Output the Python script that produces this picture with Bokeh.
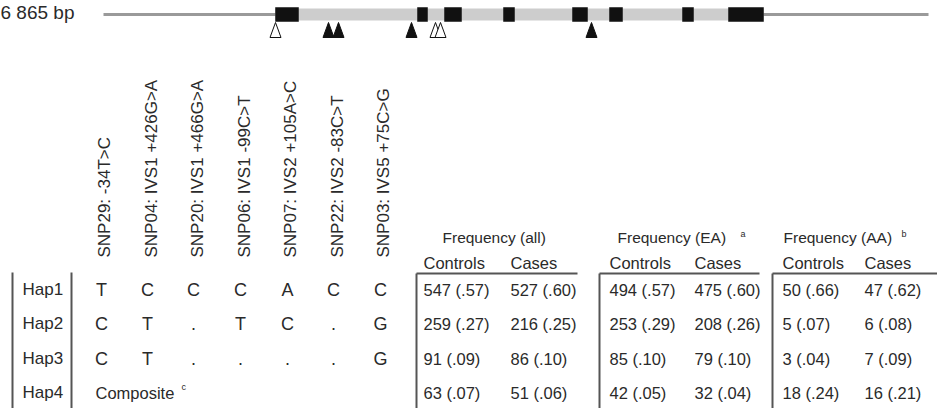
from math import pi
from bokeh.plotting import figure
from bokeh.models import Range1d
from bokeh.core.properties import value
from bokeh.embed import file_html
from bokeh.resources import INLINE

# ---------------- data ----------------
gene_label = "6 865 bp"
gene_span = [103, 928]
transcript_span = [275, 763]
exon_starts = [275, 417, 444, 503, 572, 609, 682, 728]
exon_ends = [298, 427, 461, 514, 587, 622, 693, 763]
snp_pos = [275, 328, 338, 411, 435, 440, 591]
snp_filled = [False, True, True, True, False, False, True]

snp_labels = [
    "SNP29: -34T>C",
    "SNP04: IVS1  +426G>A",
    "SNP20: IVS1 +466G>A",
    "SNP06: IVS1 -99C>T",
    "SNP07: IVS2 +105A>C",
    "SNP22: IVS2 -83C>T",
    "SNP03: IVS5 +75C>G",
]
hap_names = ["Hap1", "Hap2", "Hap3", "Hap4"]
hap1_alleles = ["T", "C", "C", "C", "A", "C", "C"]
hap2_alleles = ["C", "T", ".", "T", "C", ".", "G"]
hap3_alleles = ["C", "T", ".", ".", ".", ".", "G"]
hap4_label = "Composite"

group_titles = ["Frequency (all)", "Frequency (EA)", "Frequency (AA)"]
group_notes = ["", "a", "b"]
sub_headers = ["Controls", "Cases"]

all_controls_n = [547, 259, 91, 63]
all_controls_f = [0.57, 0.27, 0.09, 0.07]
all_cases_n = [527, 216, 86, 51]
all_cases_f = [0.60, 0.25, 0.10, 0.06]
ea_controls_n = [494, 253, 85, 42]
ea_controls_f = [0.57, 0.29, 0.10, 0.05]
ea_cases_n = [475, 208, 79, 32]
ea_cases_f = [0.60, 0.26, 0.10, 0.04]
aa_controls_n = [50, 5, 3, 18]
aa_controls_f = [0.66, 0.07, 0.04, 0.24]
aa_cases_n = [47, 6, 7, 16]
aa_cases_f = [0.62, 0.08, 0.09, 0.21]

# ---------------- layout ----------------
FONT = value("Liberation Sans")
TXT = "#2a2a2a"
LINE = "#555555"
FS = "16.5px"

row_y = [289, 323, 358, 392]
allele_x = [101, 147, 193, 240, 287, 333, 380]
header_x = [104, 151, 197, 244, 290, 337, 383]
table_left = [416, 599, 772]
table_right = [577, 759, 937]
col_a_x = [423, 609, 782]
col_b_x = [510, 694, 864]
title_x = [442, 617, 783]
note_x = [0, 740, 901]


def fmt(n, f):
    return "%d (%s)" % (n, ("%.2f" % f)[1:])


p = figure(width=937, height=408, x_range=Range1d(0, 937), y_range=Range1d(408, 0),
           output_backend="svg", toolbar_location=None, min_border=0,
           x_axis_type=None, y_axis_type=None, background_fill_color="white",
           border_fill_color="white")
p.outline_line_color = None
p.grid.visible = False

# gene diagram
p.text(x=[0], y=[12], text=[gene_label], text_font=FONT, text_font_size="19px",
       text_color=TXT, text_baseline="middle", text_align="left")
p.segment(x0=[gene_span[0]], y0=[14], x1=[gene_span[1]], y1=[14], line_color="#9a9a9a", line_width=3)
p.quad(left=[transcript_span[0]], right=[transcript_span[1]], top=[8], bottom=[20],
       fill_color="#cdcdcd", line_color=None)
p.quad(left=exon_starts, right=exon_ends, top=[7] * len(exon_starts), bottom=[21] * len(exon_starts),
       fill_color="#111111", line_color="#111111", line_width=0.5)
tri_xs = [[x - 5.5, x + 5.5, x] for x in snp_pos]
tri_ys = [[37, 37, 22] for _ in snp_pos]
p.patches(xs=tri_xs, ys=tri_ys, fill_color=["#111111" if f else "white" for f in snp_filled],
          line_color="#111111", line_width=1)

# rotated SNP headers
p.text(x=header_x, y=[257] * len(snp_labels), text=snp_labels, angle=pi / 2,
       text_font=FONT, text_font_size="17px", text_color=TXT,
       text_baseline="middle", text_align="left")

# haplotype block
p.segment(x0=[12, 71], y0=[272, 272], x1=[12, 71], y1=[410, 410], line_color=LINE, line_width=2)
p.text(x=[22] * len(hap_names), y=row_y, text=hap_names, text_font=FONT, text_font_size="17px",
       text_color=TXT, text_baseline="middle", text_align="left")
for alleles, yy in zip([hap1_alleles, hap2_alleles, hap3_alleles], row_y[:3]):
    p.text(x=allele_x, y=[yy] * len(alleles), text=alleles, text_font=FONT, text_font_size="18px",
           text_color=TXT, text_baseline="middle", text_align="center")
p.text(x=[95], y=[row_y[3]], text=[hap4_label], text_font=FONT, text_font_size=FS,
       text_color=TXT, text_baseline="middle", text_align="left")
p.text(x=[181], y=[386], text=["c"], text_font=FONT, text_font_size="9px",
       text_color=TXT, text_baseline="middle", text_align="left")

# frequency tables
groups = [
    (all_controls_n, all_controls_f, all_cases_n, all_cases_f),
    (ea_controls_n, ea_controls_f, ea_cases_n, ea_cases_f),
    (aa_controls_n, aa_controls_f, aa_cases_n, aa_cases_f),
]
for i, (cn, cf, kn, kf) in enumerate(groups):
    p.segment(x0=[table_left[i], table_left[i]], y0=[273, 273], x1=[table_left[i], table_right[i]],
              y1=[410, 273], line_color=LINE, line_width=2)
    p.text(x=[title_x[i]], y=[237], text=[group_titles[i]], text_font=FONT, text_font_size="15.5px",
           text_color=TXT, text_baseline="middle", text_align="left")
    if group_notes[i]:
        p.text(x=[note_x[i]], y=[233], text=[group_notes[i]], text_font=FONT, text_font_size="9px",
               text_color=TXT, text_baseline="middle", text_align="left")
    p.text(x=[col_a_x[i], col_b_x[i]], y=[262, 262], text=sub_headers, text_font=FONT,
           text_font_size=FS, text_color=TXT, text_baseline="middle", text_align="left")
    p.text(x=[col_a_x[i]] * 4, y=row_y, text=[fmt(n, f) for n, f in zip(cn, cf)], text_font=FONT,
           text_font_size=FS, text_color=TXT, text_baseline="middle", text_align="left")
    p.text(x=[col_b_x[i]] * 4, y=row_y, text=[fmt(n, f) for n, f in zip(kn, kf)], text_font=FONT,
           text_font_size=FS, text_color=TXT, text_baseline="middle", text_align="left")

open("out.html", "w").write(file_html(p, INLINE))
